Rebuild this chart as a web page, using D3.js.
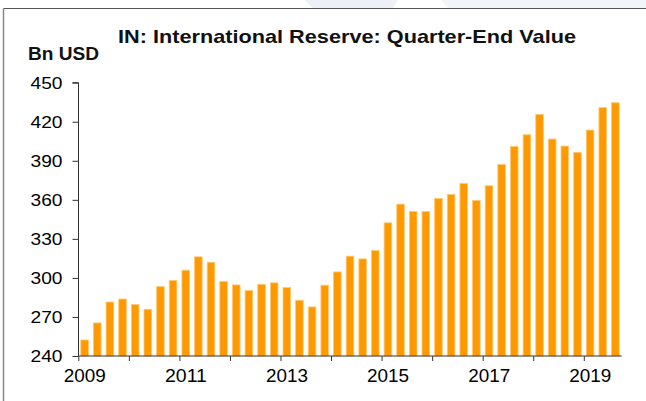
<!DOCTYPE html>
<html>
<head>
<meta charset="utf-8">
<script src="https://cdn.jsdelivr.net/npm/d3@7"></script>
<style>
  html, body { margin: 0; padding: 0; background: #fff; }
  svg { display: block; font-family: "Liberation Sans", Arial, sans-serif; }
</style>
</head>
<body>
<svg id="chart" width="646" height="401"></svg>
<script>
// Data: quarter-end values, 2009 Q1 .. 2019 Q3 (Bn USD)
const startYear = 2009;
const values = [
  252.3, 265.4, 281.5, 283.8,
  279.5, 275.9, 293.3, 298.0,
  305.9, 316.2, 312.0, 297.2,
  294.6, 290.3, 295.1, 296.2,
  292.6, 282.8, 277.7, 294.4,
  304.6, 316.7, 314.6, 321.0,
  342.3, 356.7, 351.0, 351.0,
  361.0, 364.1, 372.5, 359.5,
  370.8, 387.2, 401.0, 410.0,
  425.6, 406.7, 401.3, 396.4,
  413.6, 430.8, 434.6
];
const yTicks = [240, 270, 300, 330, 360, 390, 420, 450];
const xTickYears = [2009, 2010, 2011, 2012, 2013, 2014, 2015, 2016, 2017, 2018, 2019];
const xLabelYears = [2009, 2011, 2013, 2015, 2017, 2019];
const titleText = "IN: International Reserve: Quarter-End Value";
const unitText = "Bn USD";

const data = values.map((v, i) => ({ t: startYear + Math.floor(i / 4) + ((i % 4) + 0.5) / 4, v }));

const svg = d3.select("#chart");
const x = d3.scaleLinear().domain([2009, 2019.75]).range([78.3, 621.7]);
const y = d3.scaleLinear().domain([240, 450]).range([356, 82.7]);
const quarterW = x(2009.25) - x(2009);
const barW = quarterW * 0.6;

// faint watermark shapes above the frame
svg.append("path").attr("d", "M305,0H398L393,8H312Z").attr("fill", "#EEF0F8");
svg.append("path").attr("d", "M441,0H646V8H448Z").attr("fill", "#F3F4FA");

// frame
svg.append("line").attr("x1", 3.5).attr("x2", 646).attr("y1", 8.5).attr("y2", 8.5)
  .attr("stroke", "#555").attr("stroke-width", 1);
svg.append("line").attr("x1", 3.5).attr("x2", 3.5).attr("y1", 8.5).attr("y2", 401)
  .attr("stroke", "#888").attr("stroke-width", 1.5);

// bars
svg.append("g").selectAll("rect").data(data).join("rect")
  .attr("x", d => x(d.t) - barW / 2)
  .attr("width", barW)
  .attr("y", d => y(d.v))
  .attr("height", d => y(240) - y(d.v))
  .attr("fill", "#FF9900")
  .attr("stroke", "#FFC870")
  .attr("stroke-width", 0.8);

// y axis
const yAxis = svg.append("g").attr("transform", "translate(78.5,0)")
  .call(d3.axisLeft(y).tickValues(yTicks).tickSize(6).tickPadding(10).tickFormat(d3.format("d")));
yAxis.select(".domain").attr("stroke", "#333").attr("d", `M-6,${y(450)}H0V${y(240)}`);
yAxis.selectAll(".tick line").attr("stroke", "#333");
yAxis.selectAll(".tick text").attr("font-size", 17).attr("fill", "#000")
  .attr("font-family", "Liberation Sans, Arial, sans-serif")
  .attr("textLength", 32).attr("lengthAdjust", "spacingAndGlyphs");

// x axis
const xAxis = svg.append("g").attr("transform", "translate(0,356)")
  .call(d3.axisBottom(x).tickValues(xTickYears).tickSize(5).tickPadding(9)
    .tickFormat(d => xLabelYears.includes(d) ? String(d) : ""));
xAxis.select(".domain").attr("stroke", "#333").attr("d", `M${x(2009)},0H${x(2019.75)}`);
xAxis.selectAll(".tick line").attr("stroke", "#333");
xAxis.selectAll(".tick text").attr("font-size", 17.5).attr("fill", "#000").attr("dx", 6)
  .attr("font-family", "Liberation Sans, Arial, sans-serif")
  .filter(d => xLabelYears.includes(d))
  .attr("textLength", 42).attr("lengthAdjust", "spacingAndGlyphs");

// titles
svg.append("text").attr("x", 118).attr("y", 42.5)
  .attr("font-size", 19).attr("font-weight", "bold").attr("fill", "#111")
  .attr("textLength", 458).attr("lengthAdjust", "spacingAndGlyphs").text(titleText);
svg.append("text").attr("x", 28).attr("y", 60).attr("font-size", 17.5)
  .attr("font-weight", "bold").attr("fill", "#111")
  .attr("textLength", 71).attr("lengthAdjust", "spacingAndGlyphs").text(unitText);
</script>
</body>
</html>
